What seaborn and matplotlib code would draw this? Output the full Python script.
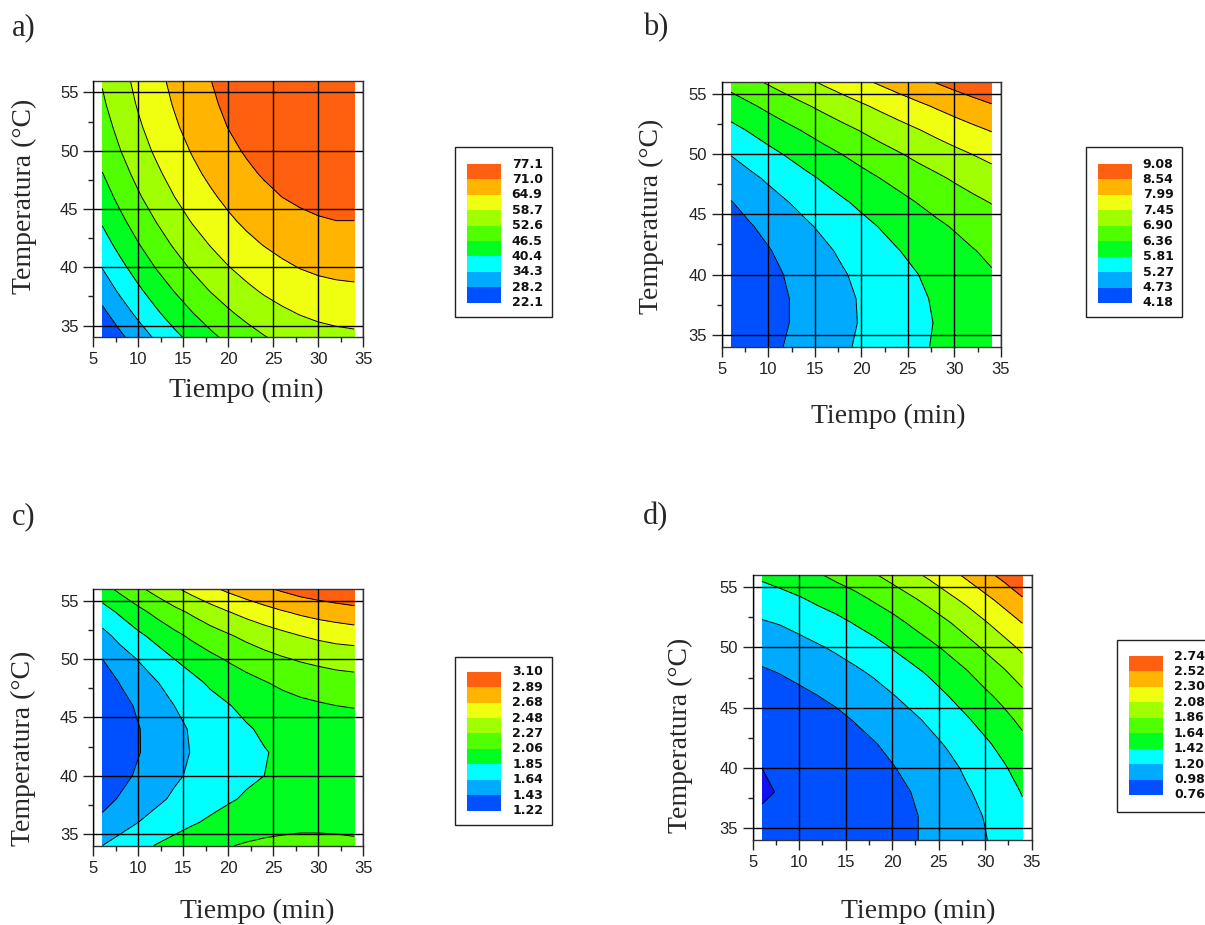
import numpy as np
import matplotlib
matplotlib.use('Agg')
import matplotlib.pyplot as plt
from matplotlib.patches import Rectangle
from matplotlib.ticker import MultipleLocator
import seaborn as sns

# ---------------- data ----------------
tiempo = [6, 8, 10, 12, 14, 16, 18, 20, 22, 24, 26, 28, 30, 32, 34]
temperatura = [34, 36, 38, 40, 42, 44, 46, 48, 50, 52, 54, 56]

resp_a = [
    [22.3, 27.0, 31.3, 35.2, 38.9, 42.2, 45.2, 47.9, 50.2, 52.3, 54.0, 55.3, 56.4, 57.1, 57.5],
    [26.7, 31.3, 35.5, 39.4, 43.0, 46.2, 49.1, 51.7, 54.0, 56.0, 57.6, 58.9, 59.9, 60.5, 60.9],
    [30.8, 35.3, 39.4, 43.2, 46.7, 49.9, 52.8, 55.3, 57.5, 59.4, 60.9, 62.1, 63.1, 63.6, 63.9],
    [34.5, 38.9, 43.0, 46.8, 50.2, 53.3, 56.1, 58.5, 60.6, 62.4, 63.9, 65.1, 65.9, 66.4, 66.6],
    [38.0, 42.3, 46.3, 50.0, 53.3, 56.3, 59.0, 61.4, 63.5, 65.2, 66.6, 67.7, 68.4, 68.9, 69.0],
    [41.1, 45.3, 49.2, 52.8, 56.1, 59.1, 61.7, 64.0, 66.0, 67.6, 68.9, 69.9, 70.6, 71.0, 71.0],
    [43.9, 48.0, 51.9, 55.4, 58.6, 61.5, 64.0, 66.2, 68.1, 69.7, 71.0, 71.9, 72.5, 72.8, 72.7],
    [46.3, 50.4, 54.2, 57.6, 60.8, 63.6, 66.0, 68.2, 70.0, 71.5, 72.7, 73.5, 74.1, 74.3, 74.2],
    [48.5, 52.5, 56.2, 59.6, 62.6, 65.3, 67.7, 69.8, 71.5, 73.0, 74.1, 74.9, 75.3, 75.4, 75.3],
    [50.3, 54.2, 57.9, 61.1, 64.1, 66.8, 69.1, 71.1, 72.8, 74.1, 75.1, 75.9, 76.2, 76.3, 76.0],
    [51.8, 55.7, 59.2, 62.4, 65.3, 67.9, 70.1, 72.1, 73.7, 74.9, 75.9, 76.5, 76.8, 76.8, 76.5],
    [53.0, 56.8, 60.2, 63.4, 66.2, 68.7, 70.9, 72.7, 74.2, 75.4, 76.3, 76.9, 77.1, 77.0, 76.6],
]
resp_b = [
    [4.29, 4.45, 4.61, 4.76, 4.91, 5.06, 5.20, 5.34, 5.47, 5.60, 5.73, 5.85, 5.97, 6.09, 6.20],
    [4.22, 4.39, 4.55, 4.71, 4.86, 5.01, 5.16, 5.30, 5.44, 5.57, 5.70, 5.83, 5.95, 6.07, 6.18],
    [4.21, 4.38, 4.55, 4.71, 4.86, 5.02, 5.17, 5.31, 5.45, 5.59, 5.73, 5.86, 5.98, 6.10, 6.22],
    [4.26, 4.43, 4.60, 4.76, 4.92, 5.08, 5.23, 5.38, 5.53, 5.67, 5.80, 5.94, 6.07, 6.19, 6.32],
    [4.35, 4.53, 4.70, 4.87, 5.03, 5.19, 5.35, 5.50, 5.65, 5.80, 5.94, 6.08, 6.21, 6.34, 6.46],
    [4.51, 4.69, 4.86, 5.03, 5.20, 5.36, 5.52, 5.68, 5.83, 5.98, 6.13, 6.27, 6.40, 6.54, 6.67],
    [4.71, 4.90, 5.08, 5.25, 5.42, 5.59, 5.75, 5.91, 6.07, 6.22, 6.37, 6.51, 6.65, 6.79, 6.92],
    [4.98, 5.16, 5.34, 5.52, 5.70, 5.87, 6.04, 6.20, 6.36, 6.51, 6.67, 6.81, 6.96, 7.10, 7.23],
    [5.29, 5.48, 5.67, 5.85, 6.03, 6.20, 6.37, 6.54, 6.70, 6.86, 7.02, 7.17, 7.32, 7.46, 7.60],
    [5.66, 5.85, 6.04, 6.23, 6.41, 6.59, 6.76, 6.93, 7.10, 7.26, 7.42, 7.58, 7.73, 7.88, 8.02],
    [6.09, 6.28, 6.48, 6.67, 6.85, 7.03, 7.21, 7.38, 7.55, 7.72, 7.88, 8.04, 8.20, 8.35, 8.49],
    [6.56, 6.77, 6.96, 7.15, 7.34, 7.53, 7.71, 7.89, 8.06, 8.23, 8.40, 8.56, 8.72, 8.87, 9.02],
]
resp_c = [
    [1.64, 1.72, 1.79, 1.86, 1.92, 1.97, 2.01, 2.05, 2.08, 2.10, 2.11, 2.12, 2.12, 2.11, 2.10],
    [1.48, 1.56, 1.64, 1.71, 1.77, 1.83, 1.88, 1.92, 1.95, 1.98, 2.00, 2.01, 2.01, 2.01, 2.00],
    [1.36, 1.45, 1.53, 1.60, 1.67, 1.73, 1.78, 1.83, 1.87, 1.90, 1.92, 1.93, 1.94, 1.94, 1.94],
    [1.28, 1.37, 1.46, 1.53, 1.61, 1.67, 1.73, 1.78, 1.82, 1.85, 1.88, 1.90, 1.91, 1.91, 1.91],
    [1.23, 1.33, 1.42, 1.50, 1.58, 1.65, 1.71, 1.76, 1.81, 1.84, 1.88, 1.90, 1.92, 1.92, 1.93],
    [1.22, 1.33, 1.42, 1.51, 1.59, 1.66, 1.73, 1.78, 1.83, 1.88, 1.91, 1.94, 1.96, 1.97, 1.98],
    [1.26, 1.36, 1.46, 1.55, 1.64, 1.71, 1.78, 1.84, 1.90, 1.95, 1.98, 2.02, 2.04, 2.06, 2.07],
    [1.32, 1.44, 1.54, 1.63, 1.72, 1.80, 1.88, 1.94, 2.00, 2.05, 2.10, 2.13, 2.16, 2.18, 2.20],
    [1.43, 1.55, 1.65, 1.75, 1.85, 1.93, 2.01, 2.08, 2.14, 2.20, 2.25, 2.29, 2.32, 2.35, 2.36],
    [1.58, 1.70, 1.81, 1.91, 2.01, 2.10, 2.18, 2.25, 2.32, 2.38, 2.43, 2.48, 2.52, 2.55, 2.57],
    [1.76, 1.88, 2.00, 2.11, 2.21, 2.30, 2.39, 2.47, 2.54, 2.60, 2.66, 2.71, 2.75, 2.78, 2.81],
    [1.98, 2.11, 2.23, 2.34, 2.45, 2.55, 2.64, 2.72, 2.79, 2.86, 2.92, 2.98, 3.02, 3.06, 3.09],
]
resp_d = [
    [0.81, 0.81, 0.81, 0.82, 0.83, 0.85, 0.88, 0.92, 0.96, 1.01, 1.06, 1.12, 1.19, 1.27, 1.35],
    [0.78, 0.78, 0.78, 0.80, 0.82, 0.84, 0.87, 0.91, 0.96, 1.01, 1.07, 1.14, 1.21, 1.29, 1.38],
    [0.74, 0.77, 0.78, 0.79, 0.82, 0.85, 0.89, 0.93, 0.98, 1.04, 1.11, 1.18, 1.25, 1.34, 1.43],
    [0.76, 0.77, 0.79, 0.81, 0.84, 0.88, 0.92, 0.97, 1.02, 1.09, 1.15, 1.23, 1.31, 1.40, 1.50],
    [0.79, 0.80, 0.82, 0.85, 0.88, 0.92, 0.97, 1.02, 1.08, 1.15, 1.22, 1.30, 1.39, 1.48, 1.58],
    [0.83, 0.85, 0.87, 0.90, 0.94, 0.99, 1.04, 1.10, 1.16, 1.23, 1.31, 1.40, 1.49, 1.58, 1.69],
    [0.89, 0.91, 0.94, 0.98, 1.02, 1.07, 1.12, 1.19, 1.26, 1.33, 1.42, 1.51, 1.60, 1.70, 1.81],
    [0.96, 0.99, 1.03, 1.07, 1.12, 1.17, 1.23, 1.30, 1.37, 1.45, 1.54, 1.63, 1.74, 1.84, 1.96],
    [1.06, 1.09, 1.13, 1.18, 1.23, 1.29, 1.35, 1.43, 1.51, 1.59, 1.68, 1.78, 1.89, 2.00, 2.12],
    [1.18, 1.21, 1.26, 1.31, 1.36, 1.43, 1.50, 1.57, 1.66, 1.75, 1.84, 1.95, 2.06, 2.18, 2.30],
    [1.31, 1.35, 1.40, 1.46, 1.52, 1.58, 1.66, 1.74, 1.83, 1.92, 2.03, 2.13, 2.25, 2.37, 2.50],
    [1.46, 1.51, 1.56, 1.62, 1.69, 1.76, 1.84, 1.93, 2.02, 2.12, 2.22, 2.34, 2.46, 2.58, 2.72],
]

niveles_a = [22.1, 28.2, 34.3, 40.4, 46.5, 52.6, 58.7, 64.9, 71.0, 77.1]
niveles_b = [4.18, 4.73, 5.27, 5.81, 6.36, 6.90, 7.45, 7.99, 8.54, 9.08]
niveles_c = [1.22, 1.43, 1.64, 1.85, 2.06, 2.27, 2.48, 2.68, 2.89, 3.10]
niveles_d = [0.76, 0.98, 1.20, 1.42, 1.64, 1.86, 2.08, 2.30, 2.52, 2.74]

etiquetas_a = ['22.1', '28.2', '34.3', '40.4', '46.5', '52.6', '58.7', '64.9', '71.0', '77.1']
etiquetas_b = ['4.18', '4.73', '5.27', '5.81', '6.36', '6.90', '7.45', '7.99', '8.54', '9.08']
etiquetas_c = ['1.22', '1.43', '1.64', '1.85', '2.06', '2.27', '2.48', '2.68', '2.89', '3.10']
etiquetas_d = ['0.76', '0.98', '1.20', '1.42', '1.64', '1.86', '2.08', '2.30', '2.52', '2.74']

paneles = ['a)', 'b)', 'c)', 'd)']
xlabel = 'Tiempo (min)'
ylabel = 'Temperatura (°C)'

# ---------------- style ----------------
sns.set_theme(style='white')
plt.rcParams['font.family'] = ['Liberation Sans', 'DejaVu Sans']

colores = sns.color_palette(['#0050FF', '#00AAFF', '#00FFFF', '#00FF20', '#50FF00',
                             '#A0FF00', '#F0FF10', '#FFB400', '#FF6010'])
bajo_d = '#1010F0'

W, H = 1205, 925
fig = plt.figure(figsize=(W / 100, H / 100), dpi=100)


def fx(p):
    return p / W


def fy(p):
    return 1 - p / H


def panel(box, Z, levels, under):
    l, t, r, b = box
    ax = fig.add_axes([fx(l), fy(b), fx(r) - fx(l), fy(t) - fy(b)])
    Z = np.array(Z)
    ax.contourf(tiempo, temperatura, Z, levels=levels,
                colors=[under] + list(colores) + [colores[-1]], extend='both', zorder=1)
    inner = [v for v in levels if Z.min() < v < Z.max()]
    ax.contour(tiempo, temperatura, Z, levels=inner, colors='black', linewidths=0.7, zorder=2)
    ax.set_xlim(5, 35)
    ax.set_ylim(34, 56)
    ax.xaxis.set_major_locator(MultipleLocator(5))
    ax.xaxis.set_minor_locator(MultipleLocator(2.5))
    ax.yaxis.set_major_locator(MultipleLocator(5))
    ax.yaxis.set_minor_locator(MultipleLocator(2.5))
    ax.set_axisbelow(False)
    ax.grid(True, which='major', color='black', linewidth=1.0)
    ax.tick_params(which='both', direction='out', bottom=True, left=True, top=False, right=False,
                   color='#222222', width=1.0)
    ax.tick_params(which='major', length=7.2, labelsize=12, labelcolor='#222222')
    ax.tick_params(axis='x', which='major', pad=3.5)
    ax.tick_params(axis='y', which='major', pad=3.5)
    ax.tick_params(which='minor', length=3.6)
    for s in ax.spines.values():
        s.set_visible(True)
        s.set_color('#333333')
        s.set_linewidth(1.0)
    return ax


def leyenda(box, sw, tx, labels):
    l, t, r, b = box
    fig.patches.append(Rectangle((fx(l), fy(b)), fx(r) - fx(l), fy(t) - fy(b),
                                 transform=fig.transFigure, facecolor='white',
                                 edgecolor='#222222', linewidth=1.0))
    sl, st, sr, sb = sw
    n = len(colores)
    h = (sb - st) / n
    for i in range(n):
        top = st + i * h
        fig.patches.append(Rectangle((fx(sl), fy(top + h)), fx(sr) - fx(sl), h / H,
                                     transform=fig.transFigure, facecolor=colores[n - 1 - i],
                                     edgecolor='none'))
    for j, lab in enumerate(reversed(labels)):
        fig.text(fx(tx), fy(st + j * h), lab, ha='left', va='center',
                 fontsize=9, fontweight='bold', family='DejaVu Sans', color='#111111')


panel((93.3, 80.7, 363.3, 337.3), resp_a, niveles_a, colores[0])
panel((721.7, 82.0, 1001.0, 346.7), resp_b, niveles_b, colores[0])
panel((93.3, 589.0, 363.3, 845.7), resp_c, niveles_c, colores[0])
panel((752.7, 575.0, 1031.7, 840.3), resp_d, niveles_d, bajo_d)

leyenda((455, 147.3, 551.7, 316.7), (466.7, 164, 500.7, 302.7), 511.7, etiquetas_a)
leyenda((1086, 147, 1182, 317), (1098, 164, 1132, 303), 1142.7, etiquetas_b)
leyenda((455, 656.7, 552, 825), (467, 671.7, 501, 810.7), 512.3, etiquetas_c)
leyenda((1116.7, 640, 1230, 812), (1129, 656, 1163, 795), 1174, etiquetas_d)

serif = ['Liberation Serif', 'DejaVu Serif']
for (px, py) in [(246, 390), (888, 416), (257, 911), (918, 911)]:
    fig.text(fx(px), fy(py), xlabel, ha='center', va='center', fontsize=20, family=serif)
for (px, py) in [(24, 196), (651, 216), (23, 748), (680, 735)]:
    fig.text(fx(px), fy(py), ylabel, ha='center', va='center', rotation=90, fontsize=20, family=serif)
for lab, (px, py) in zip(paneles, [(12, 28), (643, 28), (12, 517), (643, 517)]):
    fig.text(fx(px), fy(py), lab, ha='left', va='center', fontsize=22, family=serif)

fig.savefig('out.png', dpi=100)
